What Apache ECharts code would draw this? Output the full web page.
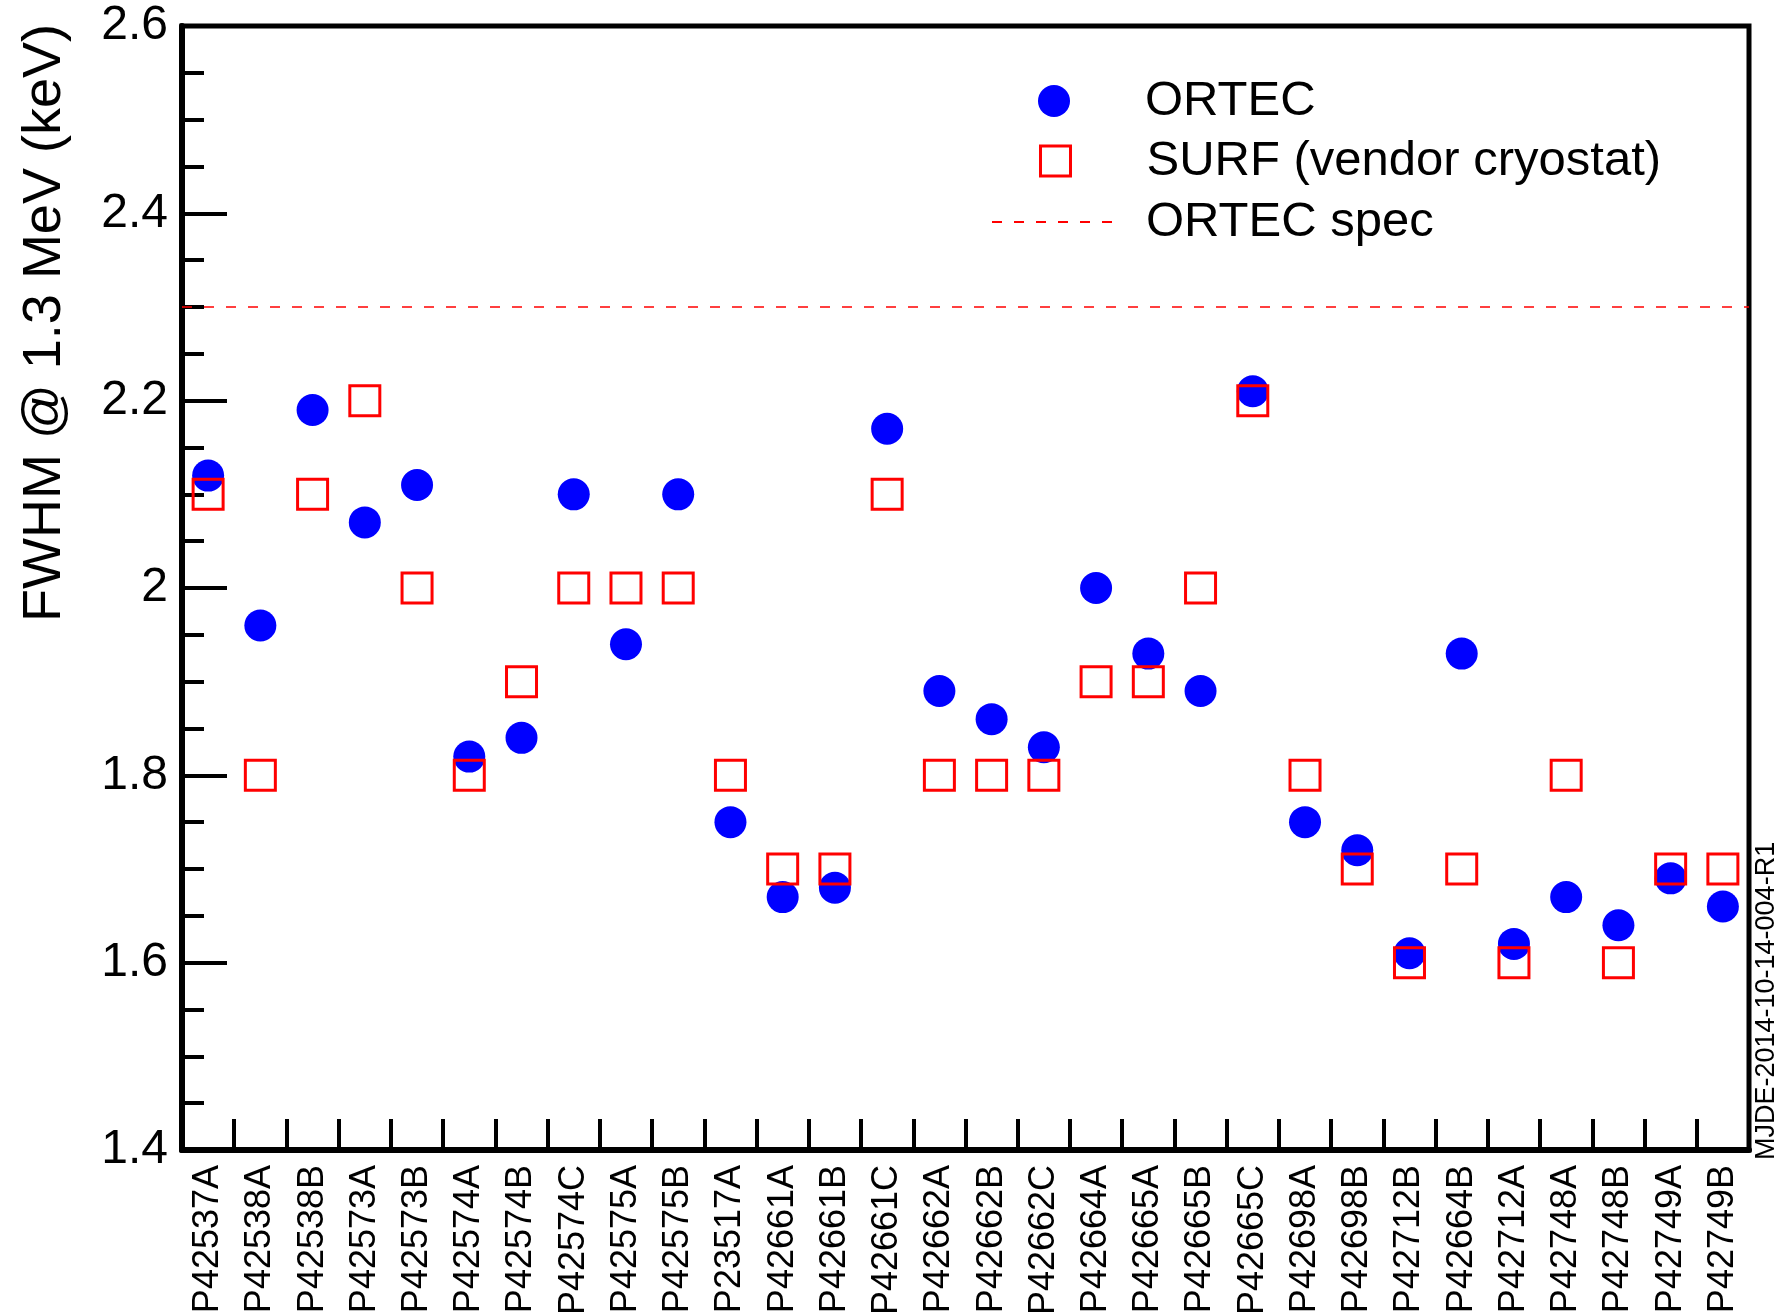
<!DOCTYPE html>
<html>
<head>
<meta charset="utf-8">
<script src="https://cdn.jsdelivr.net/npm/echarts@6/dist/echarts.min.js"></script>
<style>
html,body{margin:0;padding:0;background:#fff;}
#chart{width:1774px;height:1313px;}
</style>
</head>
<body>
<div id="chart"></div>
<script>
const categories = ['P42537A','P42538A','P42538B','P42573A','P42573B','P42574A','P42574B','P42574C','P42575A','P42575B',
  'P23517A','P42661A','P42661B','P42661C','P42662A','P42662B','P42662C','P42664A','P42665A','P42665B',
  'P42665C','P42698A','P42698B','P42712B','P42664B','P42712A','P42748A','P42748B','P42749A','P42749B'];
const ortec = [2.12,1.96,2.19,2.07,2.11,1.82,1.84,2.10,1.94,2.10,
  1.75,1.67,1.68,2.17,1.89,1.86,1.83,2.00,1.93,1.89,
  2.21,1.75,1.72,1.61,1.93,1.62,1.67,1.64,1.69,1.66];
const surf = [2.10,1.80,2.10,2.20,2.00,1.80,1.90,2.00,2.00,2.00,
  1.80,1.70,1.70,2.10,1.80,1.80,1.80,1.90,1.90,2.00,
  2.20,1.80,1.70,1.60,1.70,1.60,1.80,1.60,1.70,1.70];
const specValue = 2.3;
const yMin = 1.4, yMax = 2.6, yInterval = 0.2;
const yTitle = 'FWHM @ 1.3 MeV (keV)';
const docId = 'MJDE-2014-10-14-004-R1';
const seriesNames = ['ORTEC', 'SURF (vendor cryostat)', 'ORTEC spec'];

const FONT = '"Liberation Sans", Arial, Helvetica, sans-serif';
const chart = echarts.init(document.getElementById('chart'), null, {renderer: 'canvas'});

function legendFor(name, left, top, w, h, padLeft, extra) {
  return Object.assign({
    data: [name], left: left, top: top, padding: 0, orient: 'vertical',
    itemWidth: w, itemHeight: h, selectedMode: false,
    textStyle: {fontFamily: FONT, fontSize: 49, color: '#000', lineHeight: 50, padding: [0, 0, 0, padLeft]}
  }, extra || {});
}

const option = {
  backgroundColor: '#fff',
  animation: false,
  grid: {left: 182, right: 25, top: 26, bottom: 163, show: true, borderColor: '#000', borderWidth: 5,
    backgroundColor: 'transparent', containLabel: false, outerBoundsMode: 'none'},
  xAxis: {
    type: 'category', data: categories, boundaryGap: true,
    axisLine: {lineStyle: {color: '#000', width: 6}},
    axisTick: {show: true, inside: true, length: 31, interval: 0, lineStyle: {color: '#000', width: 4}},
    axisLabel: {interval: 0, rotate: 90, margin: 15, fontFamily: FONT, fontSize: 36, color: '#000'},
    splitLine: {show: false}
  },
  yAxis: {
    type: 'value', min: yMin, max: yMax, interval: yInterval,
    axisLine: {show: true, lineStyle: {color: '#000', width: 6}},
    axisTick: {show: true, inside: true, length: 45, lineStyle: {color: '#000', width: 4}},
    minorTick: {show: true, splitNumber: 4, length: 22, lineStyle: {color: '#000', width: 4}},
    axisLabel: {margin: 14, fontFamily: FONT, fontSize: 48, color: '#000',
      formatter: v => String(parseFloat(v.toFixed(2)))},
    splitLine: {show: false}
  },
  legend: [
    legendFor(seriesNames[0], 1038, 76, 32, 32, 70),
    legendFor(seriesNames[1], 1039, 136, 30, 30, 71, {itemStyle: {color: 'transparent', borderColor: '#ff0000', borderWidth: 3}}),
    legendFor(seriesNames[2], 991, 197, 123, 14, 26, {itemStyle: {color: 'transparent', borderWidth: 0, opacity: 0}})
  ],
  series: [
    {
      name: seriesNames[0], type: 'scatter', data: ortec, symbol: 'circle', symbolSize: 32,
      itemStyle: {color: '#0000ff', opacity: 1}, z: 3
    },
    {
      name: seriesNames[1], type: 'scatter', data: surf, symbol: 'rect', symbolSize: 30,
      itemStyle: {color: 'rgba(0,0,0,0)', borderColor: '#ff0000', borderWidth: 3, opacity: 1}, z: 4
    },
    {
      name: seriesNames[2], type: 'line', data: [], symbol: 'none',
      itemStyle: {color: '#ff0000'},
      lineStyle: {color: '#ff0000', width: 1.5, type: [10, 12]},
      markLine: {
        silent: true, symbol: ['none', 'none'], label: {show: false},
        lineStyle: {color: '#ff0000', width: 1.5, type: [10, 12]},
        data: [{yAxis: specValue}]
      }, z: 2
    }
  ],
  graphic: [
    {type: 'text', x: 45, y: 323, rotation: Math.PI / 2,
      style: {text: yTitle, fontFamily: FONT, fontSize: 54, fill: '#000', textAlign: 'center', textVerticalAlign: 'middle'}},
    {type: 'text', x: 1767, y: 1160, rotation: Math.PI / 2,
      style: {text: docId, fontFamily: FONT, fontSize: 27, fill: '#000', textAlign: 'left', textVerticalAlign: 'middle'}}
  ]
};
chart.setOption(option);
</script>
</body>
</html>
